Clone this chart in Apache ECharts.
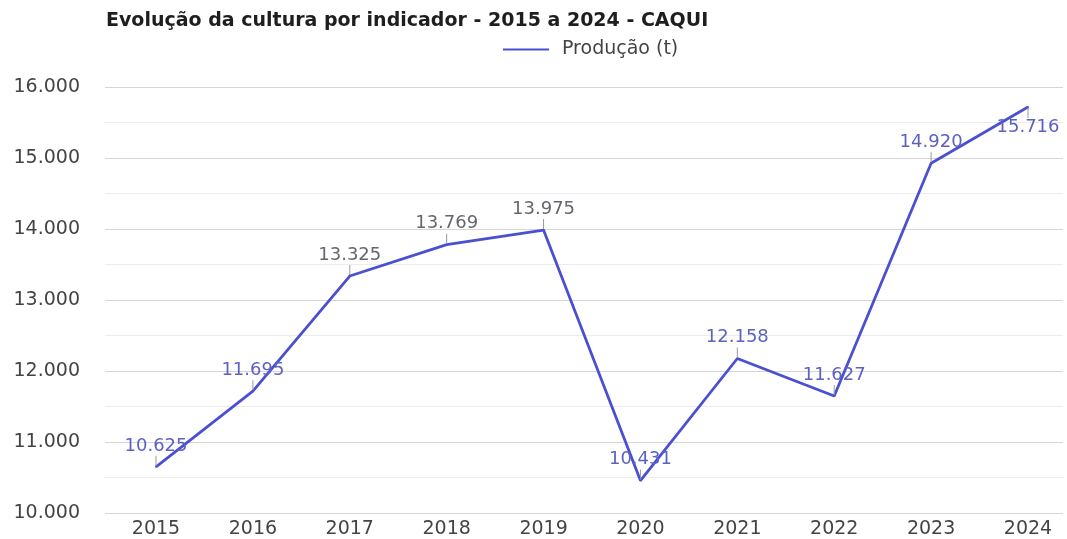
<!DOCTYPE html>
<html lang="pt">
<head>
    <meta charset="UTF-8">
    <title>Evolução da cultura por indicador - CAQUI</title>
</head>
<body style="margin:0;background:#fff;">
<div style="width: 1067px;height: 539px;" id="chart"></div>
</body>
<script src="https://cdn.jsdelivr.net/npm/echarts@6/dist/echarts.min.js"></script>
<script type="text/javascript">
  const titleText = 'Evolução da cultura por indicador - 2015 a 2024 - CAQUI';
  const seriesName = 'Produção (t)';
  const years = ['2015', '2016', '2017', '2018', '2019', '2020', '2021', '2022', '2023', '2024'];
  const producao = [10625, 11695, 13325, 13769, 13975, 10431, 12158, 11627, 14920, 15716];
  const yTicks = [10000, 11000, 12000, 13000, 14000, 15000, 16000];

  const font = 'DejaVu Sans, Liberation Sans, sans-serif';
  const lineColor = '#4a50cf';
  const labelBlue = '#5d61c2';
  const labelGray = '#66666e';
  // rótulos que aparecem em cinza na imagem
  const grayLabels = [2, 3, 4];

  // formato brasileiro: 10.625
  function fmt(v) {
    return String(v).replace(/\B(?=(\d{3})+(?!\d))/g, '.');
  }

  const lastIdx = producao.length - 1;
  const seriesData = producao.map(function(v, i) {
    let item = {value: v, label: {}};
    item.label.color = grayLabels.indexOf(i) >= 0 ? labelGray : labelBlue;
    // último ponto: rótulo abaixo, senão sai do gráfico
    if (i === lastIdx) {
      item.label.position = 'bottom';
      item.label.distance = 0;
    }
    return item;
  });

  const yMin = yTicks[0];
  const yMax = yTicks[yTicks.length - 1];

  let option = {
    animation: false,
    backgroundColor: '#fff',
    textStyle: {fontFamily: font},
    title: {
      text: titleText,
      left: 101,
      top: 7,
      textStyle: {fontSize: 19, fontWeight: 'bold', color: '#1e1e1e', fontFamily: font},
    },
    legend: {
      data: [seriesName],
      left: 498,
      top: 35,
      itemWidth: 46,
      itemHeight: 14,
      icon: 'path://M0,6 L46,6 L46,8 L0,8 Z',
      textStyle: {fontSize: 19, color: '#444', padding: [0, 0, 0, 8], fontFamily: font},
    },
    grid: [
      // grade das linhas horizontais
      {left: 105, right: 4, top: 87, bottom: 26},
      // área da série
      {left: 156, right: 39, top: 87, bottom: 26},
    ],
    xAxis: [
      {
        gridIndex: 0,
        type: 'category',
        data: years,
        show: false,
      },
      {
        gridIndex: 1,
        type: 'category',
        data: years,
        boundaryGap: false,
        axisLine: {show: false},
        axisTick: {show: false},
        splitLine: {show: false},
        axisLabel: {fontSize: 19, color: '#444', margin: 9, fontFamily: font},
      },
    ],
    yAxis: [
      {
        gridIndex: 0,
        type: 'value',
        min: yMin,
        max: yMax,
        interval: 1000,
        axisLine: {show: false},
        axisTick: {show: false},
        axisLabel: {
          fontSize: 19,
          color: '#444',
          margin: 25,
          fontFamily: font,
          formatter: function(v) {
            return fmt(v);
          },
        },
        splitLine: {lineStyle: {color: '#d6d6d6'}},
        minorTick: {show: false, splitNumber: 2},
        minorSplitLine: {show: true, lineStyle: {color: '#ececec'}},
      },
      {
        gridIndex: 1,
        type: 'value',
        min: yMin,
        max: yMax,
        show: false,
        splitLine: {show: false},
      },
    ],
    series: [
      {
        name: seriesName,
        type: 'line',
        xAxisIndex: 1,
        yAxisIndex: 1,
        data: seriesData,
        symbol: 'circle',
        symbolSize: 2,
        color: lineColor,
        itemStyle: {color: lineColor},
        lineStyle: {width: 2.8, color: lineColor},
        label: {
          show: true,
          position: 'top',
          distance: 0,
          fontSize: 18,
          fontFamily: font,
          formatter: function(p) {
            // pequena linha guia entre o ponto e o rótulo
            if (p.dataIndex === lastIdx) {
              return '{t|}\n{v|' + fmt(p.value) + '}';
            }
            return '{v|' + fmt(p.value) + '}\n{t|}';
          },
          rich: {
            v: {fontSize: 18, fontFamily: font, padding: [0, 0, 1, 0]},
            t: {width: 1, height: 10, backgroundColor: '#9a9a9a'},
          },
        },
      },
    ],
  };

  let instance = echarts.init(document.getElementById('chart'));
  instance.setOption(option);
</script>
</html>
